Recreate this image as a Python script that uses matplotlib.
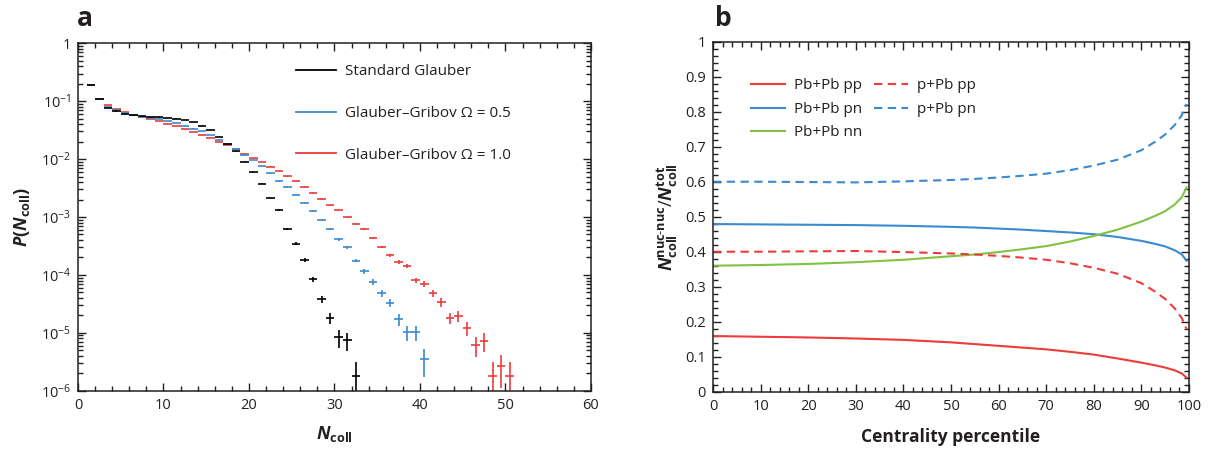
import numpy as np
import matplotlib
matplotlib.use("Agg")
import matplotlib.pyplot as plt
from matplotlib.ticker import FuncFormatter, LogLocator, NullFormatter, MultipleLocator, FixedLocator
from matplotlib.lines import Line2D

plt.rcParams['font.family'] = ['Open Sans', 'DejaVu Sans']
plt.rcParams['mathtext.fontset'] = 'custom'
plt.rcParams['mathtext.rm'] = 'Open Sans'
plt.rcParams['mathtext.it'] = 'Open Sans:italic'
plt.rcParams['mathtext.bf'] = 'Open Sans:bold'
plt.rcParams['mathtext.bfit'] = 'Open Sans:italic:bold'

TXT = '#231f20'

# ---- panel a: N_coll distributions (bin centres) ----
ncoll_std = np.arange(1.5, 33.0, 1.0)
p_std = [0.188, 0.108, 0.0771, 0.0665, 0.0590, 0.0568, 0.0545, 0.0524, 0.0524, 0.0516,
         0.0502, 0.0476, 0.0435, 0.0380, 0.0316, 0.0244, 0.0182, 0.0136, 0.0090, 0.00594,
         0.00377, 0.00215, 0.00132, 6.2e-4, 3.46e-4, 1.82e-4, 8.5e-5, 3.8e-5, 1.82e-5,
         8.3e-6, 7.4e-6, 1.8e-6]

ncoll_gg05 = np.arange(1.5, 41.0, 1.0)
p_gg05 = [0.188, 0.108, 0.0793, 0.0693, 0.0622, 0.0568, 0.0537, 0.0509, 0.0497, 0.0458,
          0.0417, 0.0380, 0.0337, 0.0303, 0.0258, 0.0217, 0.0182, 0.0149, 0.0119, 0.00973,
          0.00755, 0.00578, 0.00423, 0.00326, 0.00242, 0.00174, 0.00126, 8.8e-4, 6.3e-4,
          4.1e-4, 3.0e-4, 1.77e-4, 1.15e-4, 7.6e-5, 4.9e-5, 3.3e-5, 1.71e-5, 1.03e-5,
          1.03e-5, 3.5e-6]

ncoll_gg10 = np.arange(1.5, 51.0, 1.0)
p_gg10 = [0.188, 0.108, 0.0857, 0.0731, 0.0640, 0.0568, 0.0531, 0.0497, 0.0458, 0.0406,
          0.0370, 0.0328, 0.0291, 0.0258, 0.0232, 0.0200, 0.0175, 0.0149, 0.0124, 0.0105,
          0.00887, 0.00745, 0.00618, 0.00506, 0.00412, 0.00334, 0.00263, 0.00203, 0.00158,
          0.00130, 9.9e-4, 7.6e-4, 6.2e-4, 4.4e-4, 3.05e-4, 2.19e-4, 1.66e-4, 1.43e-4,
          8.1e-5, 7.0e-5, 4.9e-5, 3.4e-5, 1.81e-5, 1.98e-5, 1.21e-5, 6.2e-6, 7.3e-6,
          1.8e-6, 2.65e-6, 1.8e-6]

n_events = 1.1e6  # sample size used for the Poisson error bars
decades = [1e-6, 1e-5, 1e-4, 1e-3, 1e-2, 1e-1, 1]

# ---- panel b: fractions vs centrality ----
centrality = [0, 10, 20, 30, 40, 50, 55, 60, 65, 70, 75, 80, 85, 90, 93, 95, 97, 98.5, 99.5]
pbpb_pp = [0.159, 0.157, 0.155, 0.152, 0.148, 0.141, 0.136, 0.131, 0.126, 0.121, 0.114,
           0.106, 0.095, 0.083, 0.075, 0.069, 0.061, 0.052, 0.040]
pbpb_pn = [0.479, 0.478, 0.477, 0.476, 0.474, 0.471, 0.469, 0.466, 0.463, 0.459, 0.455,
           0.450, 0.442, 0.431, 0.422, 0.415, 0.404, 0.392, 0.374]
pbpb_nn = [0.360, 0.362, 0.365, 0.370, 0.377, 0.387, 0.392, 0.399, 0.407, 0.416, 0.429,
           0.445, 0.463, 0.486, 0.503, 0.516, 0.535, 0.556, 0.584]
ppb_pp = [0.400, 0.400, 0.401, 0.402, 0.399, 0.395, 0.392, 0.388, 0.383, 0.377, 0.367,
          0.354, 0.337, 0.310, 0.285, 0.265, 0.238, 0.210, 0.178]
ppb_pn = [0.600, 0.600, 0.599, 0.598, 0.601, 0.605, 0.608, 0.612, 0.617, 0.623, 0.633,
          0.646, 0.663, 0.690, 0.715, 0.735, 0.762, 0.790, 0.822]

RED = '#ee3b3b'
BLUE = '#3a8ad2'
GREEN = '#80c242'

W, H = 1221, 451
fig = plt.figure(figsize=(W / 100, H / 100), dpi=100)
ax1 = fig.add_axes([78 / W, 1 - 390.7 / H, (591 - 78) / W, (390.7 - 43.3) / H])
ax2 = fig.add_axes([713 / W, 1 - 391.7 / H, (1189 - 713) / W, (391.7 - 41.7) / H])

for ax in (ax1, ax2):
    ax.tick_params(which='both', direction='in', top=True, right=True,
                   colors=TXT, labelsize=10.5, width=1.0)
    ax.tick_params(which='major', length=6, pad=5)
    ax.tick_params(which='minor', length=3.5)
    for s in ax.spines.values():
        s.set_linewidth(1.1)
        s.set_color(TXT)

# panel a
series = [(ncoll_gg10, p_gg10, RED), (ncoll_gg05, p_gg05, BLUE), (ncoll_std, p_std, 'black')]
for x, p, c in series:
    p = np.array(p)
    ax1.errorbar(x, p, xerr=0.5, yerr=np.sqrt(p / n_events), fmt='none',
                 ecolor=c, elinewidth=1.2, capsize=0)

ax1.set_yscale('log')
ax1.set_xlim(0, 60)
ax1.set_ylim(1e-6, 1)
ax1.xaxis.set_major_locator(MultipleLocator(10))
ax1.xaxis.set_minor_locator(MultipleLocator(2))
ax1.yaxis.set_major_locator(FixedLocator(decades))
ax1.yaxis.set_minor_locator(LogLocator(base=10, subs=np.arange(2, 10), numticks=20))
ax1.yaxis.set_minor_formatter(NullFormatter())


def logfmt(v, pos):
    e = int(round(np.log10(v)))
    return '1' if e == 0 else r'$10^{-%d}$' % (-e)


ax1.yaxis.set_major_formatter(FuncFormatter(logfmt))
ax1.set_xlabel(r'$\mathbfit{N}_{\mathbf{coll}}$', fontsize=13, color=TXT, labelpad=8)
ax1.set_ylabel(r'$\mathbfit{P}\mathbf{(}\mathbfit{N}_{\mathbf{coll}}\mathbf{)}$', fontsize=13,
               color=TXT, labelpad=6)

h1 = [Line2D([], [], color='black', lw=1.3), Line2D([], [], color=BLUE, lw=1.3),
      Line2D([], [], color=RED, lw=1.3)]
l1 = ['Standard Glauber', 'Glauber\u2013Gribov \u03a9 = 0.5', 'Glauber\u2013Gribov \u03a9 = 1.0']
leg1 = ax1.legend(h1, l1, loc='upper left', bbox_to_anchor=(0.425, 0.94), frameon=False,
                  fontsize=11, handlelength=2.6, handletextpad=0.6, labelspacing=1.75,
                  borderaxespad=0, borderpad=0)
for t in leg1.get_texts():
    t.set_color(TXT)

# panel b
dash = (4, 2.6)
ax2.plot(centrality, pbpb_pp, color=RED, lw=1.5, label='Pb+Pb pp')
ax2.plot(centrality, pbpb_pn, color=BLUE, lw=1.5, label='Pb+Pb pn')
ax2.plot(centrality, pbpb_nn, color=GREEN, lw=1.5, label='Pb+Pb nn')
ax2.plot(centrality, ppb_pp, color=RED, lw=1.5, dashes=dash, label='p+Pb pp')
ax2.plot(centrality, ppb_pn, color=BLUE, lw=1.5, dashes=dash, label='p+Pb pn')
ax2.set_xlim(0, 100)
ax2.set_ylim(0, 1)
ax2.xaxis.set_major_locator(MultipleLocator(10))
ax2.xaxis.set_minor_locator(MultipleLocator(2))
ax2.yaxis.set_major_locator(MultipleLocator(0.1))
ax2.yaxis.set_minor_locator(MultipleLocator(0.02))
ax2.yaxis.set_major_formatter(FuncFormatter(lambda v, p: '%g' % round(v, 1)))
ax2.set_xlabel('Centrality percentile', fontsize=12.5, fontweight='bold', color=TXT, labelpad=10)
ax2.set_ylabel(r'$\mathbfit{N}_{\mathbf{coll}}^{\mathbf{nuc\text{-}nuc}}/\mathbfit{N}_{\mathbf{coll}}^{\mathbf{tot}}$',
               fontsize=13, color=TXT, labelpad=4)
leg2 = ax2.legend(loc='upper left', bbox_to_anchor=(0.08, 0.895), ncol=2, frameon=False,
                  fontsize=11, handlelength=2.2, handletextpad=0.6, labelspacing=0.55,
                  columnspacing=0.8, borderaxespad=0, borderpad=0)
for t in leg2.get_texts():
    t.set_color(TXT)

fig.text(77 / W, 1 - 26 / H, 'a', fontsize=19, fontweight='bold', color=TXT)
fig.text(715 / W, 1 - 26 / H, 'b', fontsize=19, fontweight='bold', color=TXT)

fig.savefig('out.png', dpi=100)
